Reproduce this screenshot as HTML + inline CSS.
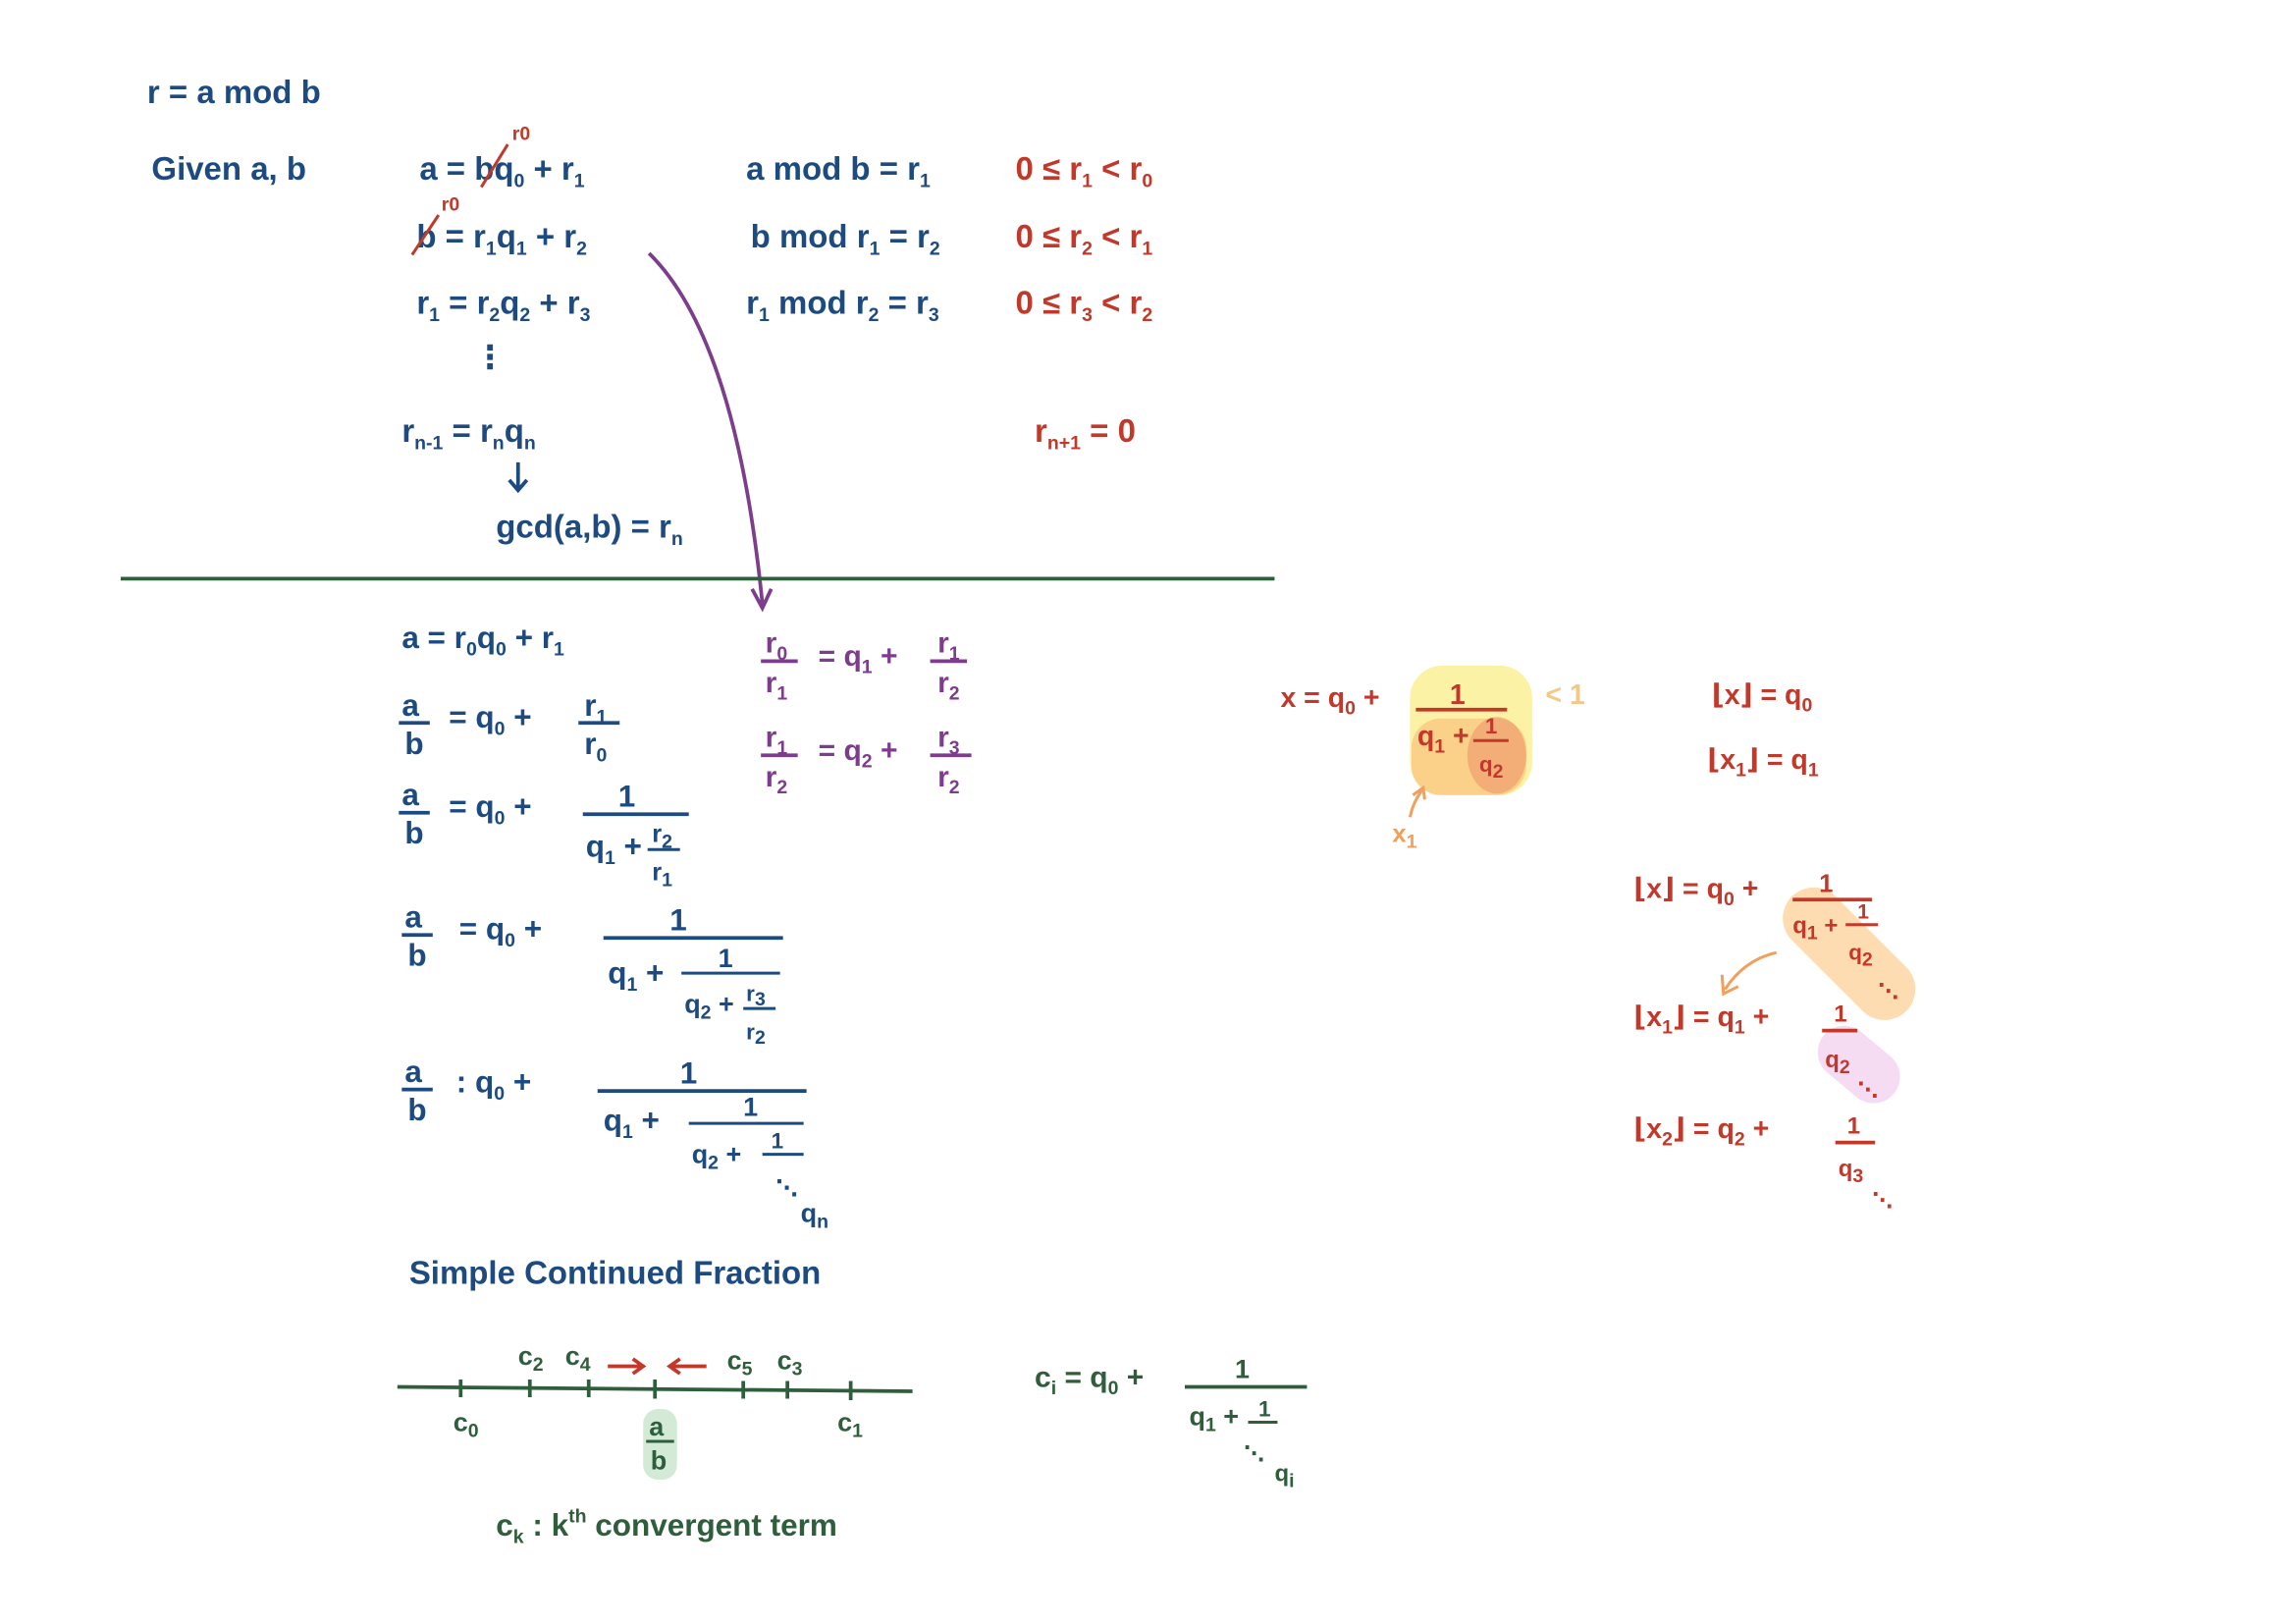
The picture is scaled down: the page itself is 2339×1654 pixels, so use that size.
<!DOCTYPE html>
<html><head><meta charset="utf-8"><style>
html,body{margin:0;padding:0;background:#fff;}
svg{display:block}
text{font-family:"Liberation Sans","DejaVu Sans",sans-serif;font-weight:bold;}
.b{fill:#1d4a7f}.r{fill:#c0392b}.p{fill:#7d3c8c}.g{fill:#2f5e3c}.o{fill:#f0a05a}
.s{font-size:13px}
</style></head><body>
<svg width="2339" height="1654" viewBox="0 0 1560 1103" xmlns="http://www.w3.org/2000/svg">
<rect width="1560" height="1103" fill="#fff"/>
<g font-size="22">
<text class="b" x="100" y="70">r = a mod b</text>
<text class="b" x="103" y="122">Given a, b</text>
<text class="b" x="285" y="122">a = bq<tspan class="s" dy="5">0</tspan><tspan dy="-5"> + r</tspan><tspan class="s" dy="5">1</tspan></text>
<line x1="327" y1="127" x2="345" y2="98" stroke="#c0392b" stroke-width="2"/>
<text class="r s" x="348" y="95">r0</text>
<text class="b" x="283" y="168">b = r<tspan class="s" dy="5">1</tspan><tspan dy="-5">q</tspan><tspan class="s" dy="5">1</tspan><tspan dy="-5"> + r</tspan><tspan class="s" dy="5">2</tspan></text>
<line x1="280" y1="173" x2="298" y2="146" stroke="#c0392b" stroke-width="2"/>
<text class="r s" x="300" y="143">r0</text>
<text class="b" x="283" y="213">r<tspan class="s" dy="5">1</tspan><tspan dy="-5"> = r</tspan><tspan class="s" dy="5">2</tspan><tspan dy="-5">q</tspan><tspan class="s" dy="5">2</tspan><tspan dy="-5"> + r</tspan><tspan class="s" dy="5">3</tspan></text>
<text class="b" x="322" y="250">⋮</text>
<text class="b" x="273" y="300">r<tspan class="s" dy="5">n-1</tspan><tspan dy="-5"> = r</tspan><tspan class="s" dy="5">n</tspan><tspan dy="-5">q</tspan><tspan class="s" dy="5">n</tspan></text>
<path d="M352 314 V332 M346 326 L352 333 L358 326" stroke="#1d4a7f" stroke-width="2.5" fill="none"/>
<text class="b" x="337" y="365">gcd(a,b) = r<tspan class="s" dy="5">n</tspan></text>
<text class="b" x="507" y="122">a mod b = r<tspan class="s" dy="5">1</tspan></text>
<text class="b" x="510" y="168">b mod r<tspan class="s" dy="5">1</tspan><tspan dy="-5"> = r</tspan><tspan class="s" dy="5">2</tspan></text>
<text class="b" x="507" y="213">r<tspan class="s" dy="5">1</tspan><tspan dy="-5"> mod r</tspan><tspan class="s" dy="5">2</tspan><tspan dy="-5"> = r</tspan><tspan class="s" dy="5">3</tspan></text>
<text class="r" x="690" y="122">0 ≤ r<tspan class="s" dy="5">1</tspan><tspan dy="-5"> &lt; r</tspan><tspan class="s" dy="5">0</tspan></text>
<text class="r" x="690" y="168">0 ≤ r<tspan class="s" dy="5">2</tspan><tspan dy="-5"> &lt; r</tspan><tspan class="s" dy="5">1</tspan></text>
<text class="r" x="690" y="213">0 ≤ r<tspan class="s" dy="5">3</tspan><tspan dy="-5"> &lt; r</tspan><tspan class="s" dy="5">2</tspan></text>
<text class="r" x="703" y="300">r<tspan class="s" dy="5">n+1</tspan><tspan dy="-5"> = 0</tspan></text>
</g>
<path d="M441 172 Q500 230 518 410 M511 400 L518 413 L524 400" stroke="#7d3c8c" stroke-width="2.5" fill="none"/>
<line x1="82" y1="393" x2="866" y2="393" stroke="#2f5e3c" stroke-width="2.5"/>
<g font-size="21">
<text class="b" x="273" y="440">a = r<tspan class="s" dy="5">0</tspan><tspan dy="-5">q</tspan><tspan class="s" dy="5">0</tspan><tspan dy="-5"> + r</tspan><tspan class="s" dy="5">1</tspan></text>
<!-- row 2 -->
<text class="b" x="273" y="486">a</text><line x1="271" y1="491" x2="292" y2="491" stroke="#1d4a7f" stroke-width="2.5"/><text class="b" x="275" y="512">b</text>
<text class="b" x="305" y="494">= q<tspan class="s" dy="5">0</tspan><tspan dy="-5"> +</tspan></text>
<text class="b" x="397" y="486">r<tspan class="s" dy="5">1</tspan></text><line x1="393" y1="491" x2="421" y2="491" stroke="#1d4a7f" stroke-width="2.5"/><text class="b" x="397" y="512">r<tspan class="s" dy="5">0</tspan></text>
<!-- row 3 -->
<text class="b" x="273" y="547">a</text><line x1="271" y1="552" x2="292" y2="552" stroke="#1d4a7f" stroke-width="2.5"/><text class="b" x="275" y="573">b</text>
<text class="b" x="305" y="555">= q<tspan class="s" dy="5">0</tspan><tspan dy="-5"> +</tspan></text>
<text class="b" x="420" y="548">1</text><line x1="396" y1="553" x2="468" y2="553" stroke="#1d4a7f" stroke-width="2.5"/>
<text class="b" x="398" y="582">q<tspan class="s" dy="5">1</tspan><tspan dy="-5"> +</tspan></text>
<text class="b" x="443" y="572" font-size="17">r<tspan class="s" dy="4">2</tspan></text><line x1="440" y1="577" x2="462" y2="577" stroke="#1d4a7f" stroke-width="2"/><text class="b" x="443" y="598" font-size="17">r<tspan class="s" dy="4">1</tspan></text>
<!-- row 4 -->
<text class="b" x="275" y="630">a</text><line x1="273" y1="635" x2="294" y2="635" stroke="#1d4a7f" stroke-width="2.5"/><text class="b" x="277" y="656">b</text>
<text class="b" x="312" y="638">= q<tspan class="s" dy="5">0</tspan><tspan dy="-5"> +</tspan></text>
<text class="b" x="455" y="632">1</text><line x1="410" y1="637" x2="532" y2="637" stroke="#1d4a7f" stroke-width="2.5"/>
<text class="b" x="413" y="668">q<tspan class="s" dy="5">1</tspan><tspan dy="-5"> +</tspan></text>
<text class="b" x="488" y="657" font-size="18">1</text><line x1="463" y1="661" x2="530" y2="661" stroke="#1d4a7f" stroke-width="2"/>
<text class="b" x="465" y="688" font-size="18">q<tspan class="s" dy="4">2</tspan><tspan dy="-4"> +</tspan></text>
<text class="b" x="507" y="680" font-size="15">r<tspan class="s" dy="3">3</tspan></text><line x1="505" y1="685" x2="527" y2="685" stroke="#1d4a7f" stroke-width="2"/><text class="b" x="507" y="706" font-size="15">r<tspan class="s" dy="3">2</tspan></text>
<!-- row 5 -->
<text class="b" x="275" y="735">a</text><line x1="273" y1="740" x2="294" y2="740" stroke="#1d4a7f" stroke-width="2.5"/><text class="b" x="277" y="761">b</text>
<text class="b" x="310" y="742">: q<tspan class="s" dy="5">0</tspan><tspan dy="-5"> +</tspan></text>
<text class="b" x="462" y="736">1</text><line x1="406" y1="741" x2="548" y2="741" stroke="#1d4a7f" stroke-width="2.5"/>
<text class="b" x="410" y="768">q<tspan class="s" dy="5">1</tspan><tspan dy="-5"> +</tspan></text>
<text class="b" x="505" y="758" font-size="18">1</text><line x1="468" y1="763" x2="546" y2="763" stroke="#1d4a7f" stroke-width="2"/>
<text class="b" x="470" y="790" font-size="18">q<tspan class="s" dy="4">2</tspan><tspan dy="-4"> + </tspan></text>
<text class="b" x="524" y="780" font-size="15">1</text><line x1="518" y1="784" x2="546" y2="784" stroke="#1d4a7f" stroke-width="2"/>
<text class="b" x="527" y="812" font-size="15">⋱</text>
<text class="b" x="544" y="830" font-size="18">q<tspan class="s" dy="4">n</tspan></text>
<text class="b" x="278" y="872" font-size="22">Simple Continued Fraction</text>
</g>
<g font-size="20" class="p">
<text class="p" x="520" y="443">r<tspan class="s" dy="5">0</tspan></text><line x1="517" y1="449" x2="542" y2="449" stroke="#7d3c8c" stroke-width="2.5"/><text class="p" x="520" y="470">r<tspan class="s" dy="5">1</tspan></text>
<text class="p" x="556" y="452">= q<tspan class="s" dy="5">1</tspan><tspan dy="-5"> +</tspan></text>
<text class="p" x="637" y="443">r<tspan class="s" dy="5">1</tspan></text><line x1="632" y1="449" x2="657" y2="449" stroke="#7d3c8c" stroke-width="2.5"/><text class="p" x="637" y="470">r<tspan class="s" dy="5">2</tspan></text>
<text class="p" x="520" y="507">r<tspan class="s" dy="5">1</tspan></text><line x1="517" y1="513" x2="542" y2="513" stroke="#7d3c8c" stroke-width="2.5"/><text class="p" x="520" y="534">r<tspan class="s" dy="5">2</tspan></text>
<text class="p" x="556" y="516">= q<tspan class="s" dy="5">2</tspan><tspan dy="-5"> +</tspan></text>
<text class="p" x="637" y="507">r<tspan class="s" dy="5">3</tspan></text><line x1="632" y1="513" x2="660" y2="513" stroke="#7d3c8c" stroke-width="2.5"/><text class="p" x="637" y="534">r<tspan class="s" dy="5">2</tspan></text>
</g>
<g font-size="19">
<rect x="958" y="452" width="83" height="88" rx="22" fill="#fbf2a6"/>
<rect x="959" y="488" width="78" height="52" rx="20" fill="#fbd089"/>
<ellipse cx="1017" cy="513" rx="20" ry="26" fill="#f0a070" opacity="0.7"/>
<text class="r" x="870" y="480">x = q<tspan class="s" dy="5">0</tspan><tspan dy="-5"> +</tspan></text>
<text class="r" x="985" y="478">1</text><line x1="962" y1="482" x2="1024" y2="482" stroke="#c0392b" stroke-width="2.5"/>
<text class="r" x="963" y="506">q<tspan class="s" dy="5">1</tspan><tspan dy="-5"> +</tspan></text>
<text class="r" x="1009" y="498" font-size="15">1</text><line x1="1001" y1="503" x2="1025" y2="503" stroke="#c0392b" stroke-width="2"/>
<text class="r" x="1005" y="524" font-size="15">q<tspan class="s" dy="4">2</tspan></text>
<text x="1050" y="478" fill="#f3c98a">&lt; 1</text>
<path d="M958 555 Q960 545 966 537 M960 540 L967 535 L968 543" stroke="#f0a05a" stroke-width="2" fill="none"/>
<text class="o" x="946" y="572" font-size="17">x<tspan class="s" dy="4">1</tspan></text>
<text class="r" x="1163" y="478">⌊x⌋ = q<tspan class="s" dy="5">0</tspan></text>
<text class="r" x="1160" y="522">⌊x<tspan class="s" dy="5">1</tspan><tspan dy="-5">⌋ = q</tspan><tspan class="s" dy="5">1</tspan></text>
<rect x="1205" y="620" width="110" height="42" rx="21" fill="#fcdcb0" transform="rotate(45 1250 640)"/>
<text class="r" x="1110" y="610">⌊x⌋ = q<tspan class="s" dy="5">0</tspan><tspan dy="-5"> +</tspan></text>
<text class="r" x="1236" y="606" font-size="17">1</text><line x1="1218" y1="611" x2="1272" y2="611" stroke="#c0392b" stroke-width="2.5"/>
<text class="r" x="1218" y="634" font-size="16">q<tspan class="s" dy="4">1</tspan><tspan dy="-4"> +</tspan></text>
<text class="r" x="1262" y="624" font-size="14">1</text><line x1="1254" y1="628" x2="1276" y2="628" stroke="#c0392b" stroke-width="2"/>
<text class="r" x="1256" y="652" font-size="15">q<tspan class="s" dy="4">2</tspan></text>
<text class="r" x="1276" y="678" font-size="14">⋱</text>
<path d="M1207 647 Q1185 652 1172 672 M1170 662 L1171 675 L1181 670" stroke="#f0a05a" stroke-width="2" fill="none"/>
<rect x="1232" y="705" width="62" height="36" rx="18" fill="#f6dcf3" transform="rotate(40 1263 723)"/>
<text class="r" x="1110" y="697">⌊x<tspan class="s" dy="5">1</tspan><tspan dy="-5">⌋ = q</tspan><tspan class="s" dy="5">1</tspan><tspan dy="-5"> +</tspan></text>
<text class="r" x="1246" y="694" font-size="16">1</text><line x1="1238" y1="700" x2="1262" y2="700" stroke="#c0392b" stroke-width="2.5"/>
<text class="r" x="1240" y="725" font-size="16">q<tspan class="s" dy="4">2</tspan></text>
<text class="r" x="1262" y="745" font-size="14">⋱</text>
<text class="r" x="1110" y="773">⌊x<tspan class="s" dy="5">2</tspan><tspan dy="-5">⌋ = q</tspan><tspan class="s" dy="5">2</tspan><tspan dy="-5"> +</tspan></text>
<text class="r" x="1255" y="770" font-size="16">1</text><line x1="1247" y1="776" x2="1274" y2="776" stroke="#c0392b" stroke-width="2.5"/>
<text class="r" x="1249" y="799" font-size="16">q<tspan class="s" dy="4">3</tspan></text>
<text class="r" x="1272" y="820" font-size="14">⋱</text>
</g>
<g font-size="18">
<rect x="437" y="957" width="23" height="48" rx="10" fill="#d3ead7"/>
<line x1="270" y1="942" x2="620" y2="945" stroke="#2f5e3c" stroke-width="2.5"/>
<g stroke="#2f5e3c" stroke-width="2.5">
<line x1="313" y1="937" x2="313" y2="949"/><line x1="360" y1="937" x2="360" y2="949"/><line x1="400" y1="937" x2="400" y2="949"/><line x1="445" y1="937" x2="445" y2="950"/><line x1="505" y1="938" x2="505" y2="950"/><line x1="535" y1="938" x2="535" y2="950"/><line x1="578" y1="938" x2="578" y2="951"/>
</g>
<text class="g" x="308" y="972">c<tspan class="s" dy="4">0</tspan></text>
<text class="g" x="569" y="972">c<tspan class="s" dy="4">1</tspan></text>
<text class="g" x="352" y="927">c<tspan class="s" dy="4">2</tspan></text>
<text class="g" x="384" y="927">c<tspan class="s" dy="4">4</tspan></text>
<text class="g" x="494" y="930">c<tspan class="s" dy="4">5</tspan></text>
<text class="g" x="528" y="930">c<tspan class="s" dy="4">3</tspan></text>
<path d="M413 928 H436 M430 923 L437 928 L430 933" stroke="#c0392b" stroke-width="2.5" fill="none"/>
<path d="M480 928 H456 M462 923 L455 928 L462 933" stroke="#c0392b" stroke-width="2.5" fill="none"/>
<text class="g" x="441" y="975">a</text><line x1="439" y1="979" x2="458" y2="979" stroke="#2f5e3c" stroke-width="2"/><text class="g" x="442" y="998">b</text>
<text class="g" x="337" y="1043" font-size="21">c<tspan class="s" dy="5">k</tspan><tspan dy="-5"> : k</tspan><tspan class="s" dy="-9">th</tspan><tspan dy="9"> convergent term</tspan></text>
<text class="g" x="703" y="942" font-size="20">c<tspan class="s" dy="5">i</tspan><tspan dy="-5"> = q</tspan><tspan class="s" dy="5">0</tspan><tspan dy="-5"> +</tspan></text>
<text class="g" x="839" y="936">1</text><line x1="805" y1="942" x2="888" y2="942" stroke="#2f5e3c" stroke-width="2.5"/>
<text class="g" x="808" y="968">q<tspan class="s" dy="4">1</tspan><tspan dy="-4"> +</tspan></text>
<text class="g" x="855" y="962" font-size="15">1</text><line x1="848" y1="966" x2="868" y2="966" stroke="#2f5e3c" stroke-width="2"/>
<text class="g" x="845" y="992" font-size="14">⋱</text>
<text class="g" x="866" y="1006" font-size="16">q<tspan class="s" dy="4">i</tspan></text>
</g>
</svg>
</body></html>
